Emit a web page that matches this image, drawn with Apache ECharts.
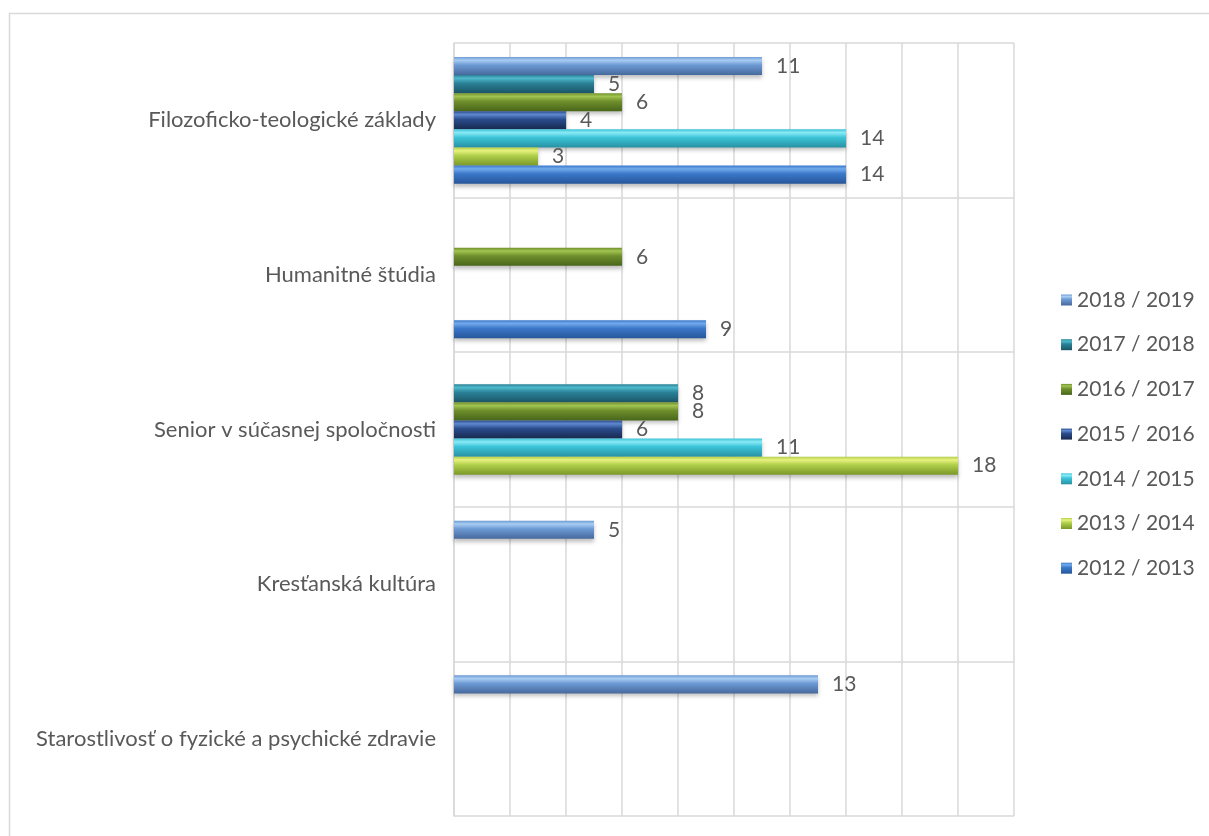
<!DOCTYPE html>
<html><head><meta charset="utf-8">
<script src="https://cdn.jsdelivr.net/npm/echarts@6/dist/echarts.min.js"></script>
<style>html,body{margin:0;padding:0;background:#fff}#c{width:1209px;height:836px}</style>
</head><body><div id="c"></div>
<script>
const categories = ['Filozoficko-teologické základy','Humanitné štúdia','Senior v súčasnej spoločnosti','Kresťanská kultúra','Starostlivosť o fyzické a psychické zdravie'];
const seriesNames = ['2018 / 2019','2017 / 2018','2016 / 2017','2015 / 2016','2014 / 2015','2013 / 2014','2012 / 2013'];
const v2018_2019 = [11, null, null, 5, 13];
const v2017_2018 = [5, null, 8, null, null];
const v2016_2017 = [6, 6, 8, null, null];
const v2015_2016 = [4, null, 6, null, null];
const v2014_2015 = [14, null, 11, null, null];
const v2013_2014 = [3, null, 18, null, null];
const v2012_2013 = [14, 9, null, null, null];
const xTicks = [0,2,4,6,8,10,12,14,16,18,20];

const values = [v2018_2019,v2017_2018,v2016_2017,v2015_2016,v2014_2015,v2013_2014,v2012_2013];
const palette = [
  ['#a9cdf3','#6d9ad4','#46699c'],
  ['#4fb9cb','#2b8197','#1b5666'],
  ['#a2c451','#6f8f2c','#48661a'],
  ['#5f88cf','#2a4c8c','#18294f'],
  ['#8aeaf6','#3cc4d8','#2891a3'],
  ['#e8f27f','#b0cf4a','#7a9828'],
  ['#72aaec','#3b78c9','#27569a']
];
const grad = c => new echarts.graphic.LinearGradient(0,0,0,1,[
  {offset:0,color:c[1]},{offset:0.18,color:c[0]},{offset:0.45,color:c[1]},{offset:1,color:c[2]}]);

const chart = echarts.init(document.getElementById('c'));
const FONT = 'Lato';
const TXT = '#595959';
chart.setOption({
  animation:false,
  textStyle:{fontFamily:FONT},
  graphic:[{type:'rect',shape:{x:9.5,y:13.5,width:1205,height:840},style:{fill:'none',stroke:'#d9d9d9',lineWidth:1.5},silent:true,z:-10}],
  grid:{left:454,right:195,top:43,bottom:20},
  legend:{
    orient:'vertical',left:1056,top:283,itemWidth:11,itemHeight:11,itemGap:20.7,
    data:seriesNames,
    textStyle:{fontSize:21,color:TXT,fontFamily:FONT,lineHeight:24},
    icon:'rect'
  },
  xAxis:{type:'value',min:0,max:20,interval:2,axisLabel:{show:false},axisLine:{show:false},axisTick:{show:false},
    splitLine:{lineStyle:{color:'#d9d9d9',width:1.5}}},
  yAxis:{type:'category',data:categories,inverse:true,
    axisLine:{show:true,lineStyle:{color:'#d9d9d9',width:1.5}},axisTick:{show:false},
    splitLine:{show:true,lineStyle:{color:'#d9d9d9',width:1.5}},
    axisLabel:{fontSize:22,color:TXT,margin:18,fontFamily:FONT}},
  series: seriesNames.map((n,i)=>({
    name:n,type:'bar',data:values[i],barGap:'0%',barCategoryGap:'18%',
    itemStyle:{color:grad(palette[i]),shadowColor:'rgba(0,0,0,0.25)',shadowBlur:4,shadowOffsetY:3},
    label:{show:true,position:'right',distance:14,fontSize:21,color:TXT,fontFamily:FONT}
  }))
});
</script></body></html>
